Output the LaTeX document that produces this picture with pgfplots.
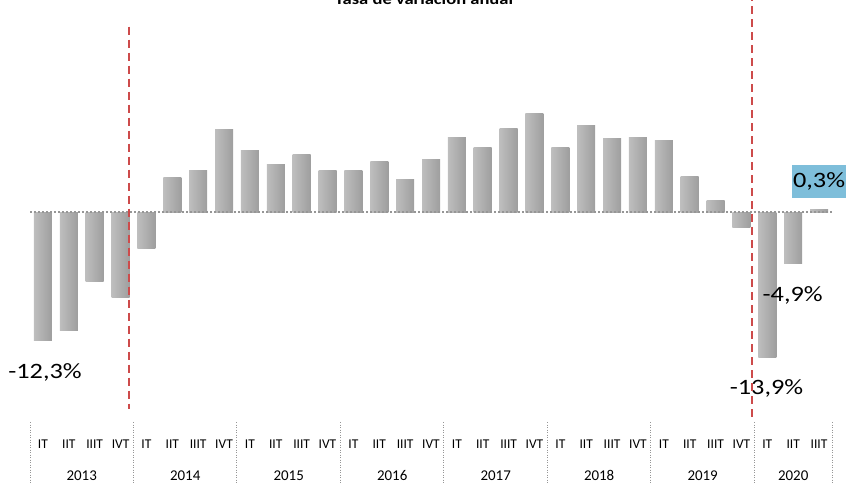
\documentclass[border=0pt]{standalone}
\usepackage{fontspec}
\setmainfont{Carlito}
\newfontfamily\widefont[FakeStretch=1.2]{Carlito}
\usepackage{pgfplots}
\pgfplotsset{compat=1.18}
\definecolor{barL}{RGB}{190,190,190}
\definecolor{barR}{RGB}{158,158,158}
\definecolor{redline}{RGB}{205,75,75}
\definecolor{zeroline}{RGB}{150,150,150}
\definecolor{boxblue}{RGB}{126,190,218}
\tikzset{
  dlbl/.style={font=\widefont\fontsize{22}{26}\selectfont, inner sep=0pt, text=black},
  yrlbl/.style={font=\fontsize{15}{18}\selectfont, anchor=base, yshift=-58bp, inner sep=0pt},
  qlbl/.style={font=\fontsize{13.5}{15}\selectfont, anchor=base, yshift=-26.5bp, inner sep=0pt},
}
% one bar per plot, so that each bar gets its own shading
\newcommand\qbar[2]{\addplot[ybar, bar width=18bp, draw=none, left color=barL, right color=barR] coordinates {(#1,#2)};}
\newcommand\qname[1]{\ifcase#1 IT\or IIT\or IIIT\or IVT\fi}

\begin{document}
\begin{tikzpicture}
\begin{axis}[
  scale only axis, width=802bp, height=422bp,
  xmin=-0.5, xmax=30.5, ymin=-20.09, ymax=20.34,
  enlargelimits=false, clip=false,
  axis line style={draw=none},
  ytick=\empty, xtick=\empty,
]
% tasa de variacion anual, 2013 IT - 2020 IIIT
\qbar{0}{-12.3} \qbar{1}{-11.3} \qbar{2}{-6.6} \qbar{3}{-8.2}
\qbar{4}{-3.5}  \qbar{5}{3.3}   \qbar{6}{4.0}  \qbar{7}{7.9}
\qbar{8}{5.9}   \qbar{9}{4.6}   \qbar{10}{5.5} \qbar{11}{4.0}
\qbar{12}{4.0}  \qbar{13}{4.9}  \qbar{14}{3.1} \qbar{15}{5.1}
\qbar{16}{7.2}  \qbar{17}{6.2}  \qbar{18}{8.0} \qbar{19}{9.5}
\qbar{20}{6.2}  \qbar{21}{8.3}  \qbar{22}{7.1} \qbar{23}{7.2}
\qbar{24}{6.9}  \qbar{25}{3.4}  \qbar{26}{1.1} \qbar{27}{-1.5}
\qbar{28}{-13.9} \qbar{29}{-4.9} \qbar{30}{0.3}

% zero line
\draw[zeroline, line width=2bp, dash pattern=on 2bp off 2bp] (axis cs:-0.5,0) -- (axis cs:30.5,0);

% quarter labels
\pgfplotsinvokeforeach{0,...,30}{
  \node[qlbl] at (axis cs:#1,-20.09) {\pgfmathtruncatemacro\r{mod(#1,4)}\qname{\r}};
}

% year separators
\pgfplotsinvokeforeach{-0.5,3.5,7.5,11.5,15.5,19.5,23.5,27.5,30.5}{
  \draw[zeroline, line width=1bp, dash pattern=on 1bp off 1.5bp] (axis cs:#1,-20.09) -- ++(0pt,-62bp);
}
\node[yrlbl] at (axis cs:1.5,-20.09) {2013};
\node[yrlbl] at (axis cs:5.5,-20.09) {2014};
\node[yrlbl] at (axis cs:9.5,-20.09) {2015};
\node[yrlbl] at (axis cs:13.5,-20.09) {2016};
\node[yrlbl] at (axis cs:17.5,-20.09) {2017};
\node[yrlbl] at (axis cs:21.5,-20.09) {2018};
\node[yrlbl] at (axis cs:25.5,-20.09) {2019};
\node[yrlbl] at (axis cs:29,-20.09) {2020};

% value labels
\node[dlbl, anchor=base] at (axis cs:0.08,-15.91) {-12,3\%};
\node[dlbl, anchor=base] at (axis cs:27.97,-17.5) {-13,9\%};
\node[dlbl, anchor=base] at (axis cs:28.98,-8.5) {-4,9\%};
\node[dlbl, fill=boxblue, minimum width=53.4bp, minimum height=32.7bp] at (axis cs:30.0,2.97) {0,3\%};

% red dashed markers
\draw[redline, line width=1.7bp, dash pattern=on 8bp off 5bp] (axis cs:3.32,17.8) -- (axis cs:3.32,-18.84);
\draw[redline, line width=1.7bp, dash pattern=on 8bp off 5bp] (axis cs:27.42,21) -- (axis cs:27.42,-19.6);
\end{axis}
\node[font=\widefont\bfseries\fontsize{15.5}{18}\selectfont, anchor=base, inner sep=0pt] at (394bp,417bp) {Tasa de variación anual};
\pgfresetboundingbox
\path[use as bounding box] (-30bp,-62bp) rectangle (817bp,422bp);
\end{tikzpicture}
\end{document}
